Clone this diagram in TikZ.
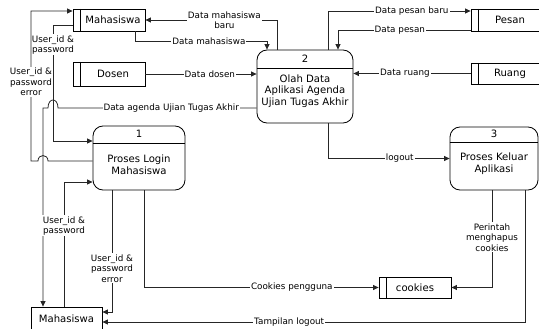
\documentclass[tikz,border=0pt]{standalone}
\usepackage{fontspec}
\setmainfont{DejaVu Sans}
\usetikzlibrary{arrows.meta}

\begin{document}
\begin{tikzpicture}[x=1pt,y=-1pt,line width=.8pt,
    every node/.style={font=\fontsize{10.1}{11.5}\selectfont,inner sep=0pt},
    store/.style={draw,minimum width=72pt,minimum height=22pt,
      path picture={\draw ([xshift=7pt]path picture bounding box.north west) -- ([xshift=7pt]path picture bounding box.south west);}},
    shifted/.style={execute at begin node={\hspace*{8pt}}},
    entity/.style={draw,minimum width=71pt,minimum height=24pt},
    proc/.style={draw,rounded corners=10pt},
    ptext/.style={align=center},
    flow/.style={draw=black!85,-{Triangle[length=5.5pt,width=5pt]}},
    lbl/.style={fill=white,inner sep=1pt,align=center,font=\fontsize{8.8}{10.5}\selectfont}]
  \clip (0,0) rectangle (539,329);

  \node[store,shifted] (mhs) at (109,20) {Mahasiswa};
  \node[store,shifted,minimum height=24pt] (ds) at (109,74) {Dosen};
  \node[store,shifted,minimum width=70pt] (ps) at (506,20) {Pesan};
  \node[store,shifted,minimum width=70pt,minimum height=21pt] (ru) at (506,73.5) {Ruang};
  \node[store,minimum height=21pt] (ck) at (415,287.5) {cookies};
  \node[entity] (mhs2) at (66.5,319) {Mahasiswa};

  \node[proc,minimum width=92pt,minimum height=64pt] (p1) at (139,158) {};
  \draw ([yshift=15pt]p1.west) -- ([yshift=15pt]p1.east);
  \node (p1n) at ([yshift=-8pt]p1.north) {1};
  \node[ptext] (p1t) at (139,164.5) {Proses Login\\Mahasiswa};

  \node[proc,minimum width=96pt,minimum height=73pt] (p2) at (305,86.5) {};
  \draw ([yshift=18.5pt]p2.west) -- ([yshift=18.5pt]p2.east);
  \node (p2n) at ([yshift=-9pt]p2.north) {2};
  \node[ptext] (p2t) at (305,91) {Olah Data\\Aplikasi Agenda\\Ujian Tugas Akhir};

  \node[proc,minimum width=88pt,minimum height=63pt] (p3) at (494,158.5) {};
  \draw ([yshift=16.5pt]p3.west) -- ([yshift=16.5pt]p3.east);
  \node (p3n) at ([yshift=-7.5pt]p3.north) {3};
  \node[ptext] (p3t) at (494,163.5) {Proses Keluar\\Aplikasi};

  \draw[flow] ([xshift=-28pt]p2.north) |- node[lbl,pos=.7]{Data mahasiswa\\baru} (mhs.east);
  \draw[flow] ([xshift=26pt]mhs.south) -- ++(0,10) -| node[lbl,pos=.28]{Data mahasiswa} ([xshift=-38pt]p2.north);
  \draw[flow] (ds.east) -- node[lbl,pos=.58]{Data dosen} (p2.west |- ds.east);
  \draw[flow] ([yshift=-21.5pt]p2.west) -- node[lbl,pos=.43]{Data agenda Ujian Tugas Akhir} (58,108)
    .. controls (58,97.3) and (48,97.3) .. (48,108) -| ([xshift=-23.5pt]mhs2.north);
  \draw[flow] ([yshift=-5pt]mhs.west) -| node[lbl,pos=.586]{User\_id \&\\password} (53,141) -- ([yshift=17pt]p1.west);
  \draw[flow] ([yshift=-3pt]p1.west) -- (48,161) .. controls (48,153.7) and (38,153.7) .. (38,161)
    -- (31,161) |- node[lbl,pos=.263]{User\_id \&\\password\\error} ([yshift=9pt]mhs.west);
  \draw[flow] ([xshift=-2.5pt]mhs2.north) |- node[lbl,pos=.324]{User\_id \&\\password} ([yshift=-24pt]p1.west);
  \draw[flow] ([xshift=-27pt]p1.south) |- node[lbl,pos=.32]{User\_id \&\\password\\error} ([yshift=7pt]mhs2.east);
  \draw[flow] ([xshift=5pt]p1.south) |- node[lbl,pos=.815]{Cookies pengguna} (ck.west);
  \draw[flow] ([xshift=23pt]p2.south) |- node[lbl,pos=.795]{logout} (p3.west);
  \draw[flow] ([xshift=-2pt]p3.south) |- node[lbl,pos=.242]{Perintah\\menghapus\\cookies} (ck.east);
  \draw[flow] ([xshift=31pt]p3.south) |- node[lbl,pos=.779]{Tampilan logout} ([yshift=-3pt]mhs2.east);
  \draw[flow] ([xshift=23pt]p2.north) |- node[lbl,pos=.794]{Data pesan baru} ([yshift=9pt]ps.west);
  \draw[flow] ([yshift=-10pt]ps.west) -| node[lbl,pos=.267]{Data pesan} ([xshift=33pt]p2.north);
  \draw[flow] (ru.west) -- node[lbl,pos=.56]{Data ruang} (p2.east |- ru.west);
\end{tikzpicture}
\end{document}
